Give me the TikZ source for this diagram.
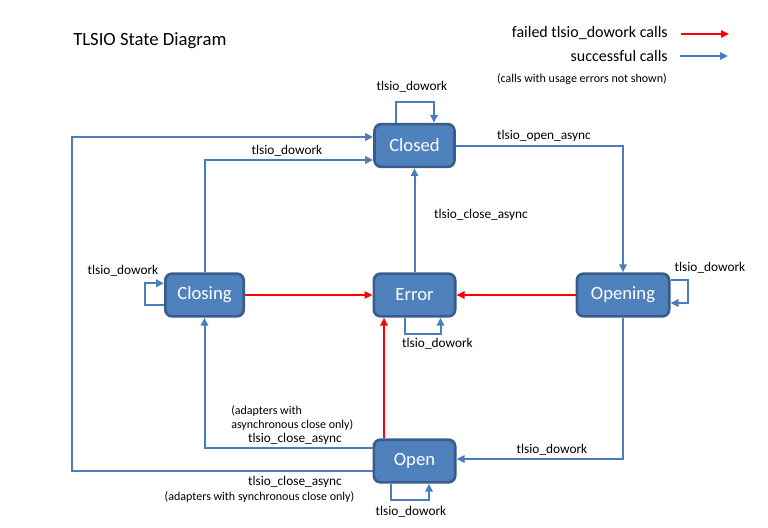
\documentclass[tikz,border=0pt]{standalone}
\usepackage{fontspec}
\setmainfont{Carlito}
\usetikzlibrary{arrows.meta,calc}
\definecolor{boxfill}{HTML}{4F81BD}
\definecolor{boxline}{HTML}{385D8A}
\definecolor{conn}{HTML}{4A7EBB}
\definecolor{failred}{HTML}{FF0000}
\begin{document}
\begin{tikzpicture}[x=0.75pt,y=-0.75pt,
  state/.style={draw=boxline, fill=boxfill, line width=2pt, rounded corners=5pt,
    text=white, font=\fontsize{14}{16}\selectfont, minimum height=32pt, inner sep=0pt},
  okarrow/.style={draw=conn, line width=1.5pt, -{Triangle[length=6pt,width=5.5pt]}},
  failarrow/.style={draw=failred, line width=1.5pt, -{Triangle[length=6pt,width=5.5pt]}},
  lbl/.style={font=\fontsize{10}{12}\selectfont, inner sep=0pt},
  small/.style={font=\fontsize{9}{10.7}\selectfont, inner sep=0pt},
  legend/.style={font=\fontsize{12}{14}\selectfont, inner sep=0pt}]
\useasboundingbox (0,0) rectangle (768,528);

% title
\node[anchor=west, font=\fontsize{14}{16}\selectfont, inner sep=0pt] (title) at (73,41) {TLSIO State Diagram};

% legend
\node[legend, anchor=east] (lgfail) at (668,33) {failed tlsio\_dowork calls};
\node[legend, anchor=east] (lgok) at (668,56) {successful calls};
\node[small, anchor=east] (lgnote) at (667,79) {(calls with usage errors not shown)};
\coordinate (rf1) at (681,34);
\coordinate (rf2) at (729,34);
\coordinate (bf1) at (680,56);
\coordinate (bf2) at (728,56);
\draw[failarrow] (rf1) -- (rf2);
\draw[okarrow] (bf1) -- (bf2);

% states
\node[state, minimum width=60pt] (Closed) at (414.5,145.5) {Closed};
\node[state, minimum width=58.75pt] (Closing) at (204.5,295) {Closing};
\node[state, minimum width=61pt] (Error) at (414.5,295) {Error};
\node[state, minimum width=69.25pt] (Opening) at (623,295) {Opening};
\node[state, minimum width=61pt] (Open) at (414.5,461) {Open};

% Closed self loop
\draw[okarrow] ($(Closed.north)+(-19,0)$) |- ($(Closed.north)+(0,-21)$) -| ($(Closed.north)+(19.5,0)$);
\node[lbl] (l1) at (412,87) {tlsio\_dowork};

% Closed -> Opening
\draw[okarrow] (Closed.east) -| (Opening.north);
\node[lbl] (l2) at (544,136) {tlsio\_open\_async};

% Error -> Closed
\draw[okarrow] (Error.north) -- (Closed.south);
\node[lbl] (l3) at (481,215) {tlsio\_close\_async};

% Closing -> Closed
\draw[okarrow] (Closing.north) |- ($(Closed.west)+(0,14.5)$);
\node[lbl] (l4) at (287,151) {tlsio\_dowork};

% Open -> Closed (synchronous close)
\coordinate (leftx) at (72,300);
\coordinate (s5) at ($(Open.west)+(0,9.5)$);
\coordinate (t5) at ($(Closed.west)+(0,-8.5)$);
\draw[okarrow] (s5) -- (s5 -| leftx) -- (t5 -| leftx) -- (t5);
\node[lbl] (l5) at (295,482) {tlsio\_close\_async};
\node[small] (l5b) at (259.5,497) {(adapters with synchronous close only)};

% Open -> Closing (asynchronous close)
\draw[okarrow] ($(Open.west)+(0,-13.5)$) -| (Closing.south);
\node[small, anchor=west, align=left] (l6b) at (231,418) {(adapters with\\asynchronous close only)};
\node[lbl] (l6) at (295,439) {tlsio\_close\_async};

% failures to Error
\draw[failarrow] (Closing.east) -- (Error.west);
\draw[failarrow] (Opening.west) -- (Error.east);
\draw[failarrow] ($(Open.north)+(-30.5,0)$) -- ($(Error.south)+(-30.5,0)$);

% Error self loop
\draw[okarrow] ($(Error.south)+(-9.5,0)$) |- ($(Error.south)+(0,16)$) -| ($(Error.south)+(26,0)$);
\node[lbl] (l10) at (437.5,344) {tlsio\_dowork};

% Opening self loop
\draw[okarrow] ($(Opening.east)+(0,-15)$) -- ++(17.5,0) |- ($(Opening.east)+(0,8)$);
\node[lbl] (l11) at (710,268) {tlsio\_dowork};

% Opening -> Open
\draw[okarrow] (Opening.south) |- ($(Open.east)+(0,-2)$);
\node[lbl] (l12) at (552,450) {tlsio\_dowork};

% Open self loop
\draw[okarrow] ($(Open.south)+(-23.5,0)$) |- ($(Open.south)+(0,16.7)$) -| ($(Open.south)+(14.5,0)$);
\node[lbl] (l13) at (411,512) {tlsio\_dowork};

% Closing self loop
\draw[okarrow] ($(Closing.west)+(0,10)$) -- ++(-19.5,0) |- ($(Closing.west)+(0,-11.7)$);
\node[lbl] (l14) at (123,271) {tlsio\_dowork};
\end{tikzpicture}
\end{document}
